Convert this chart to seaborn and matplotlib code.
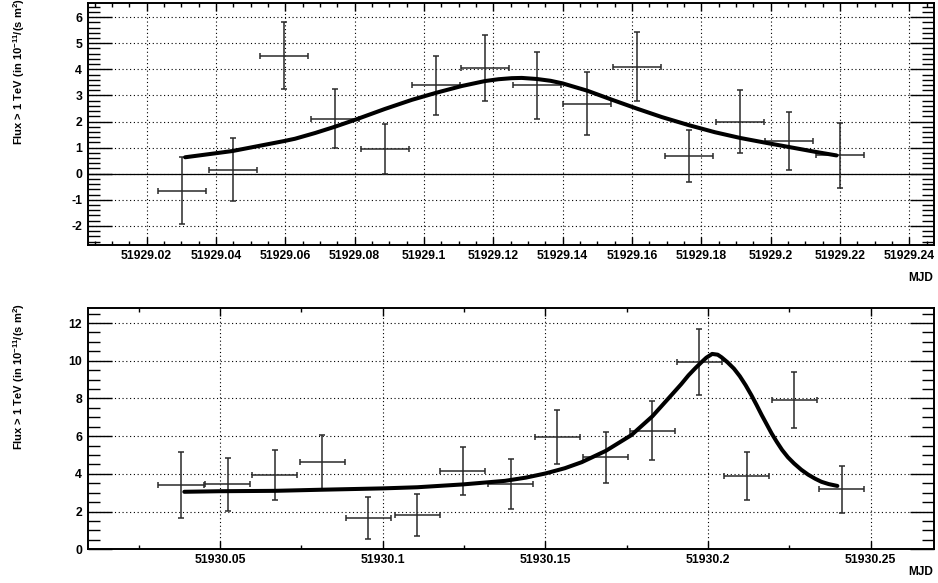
import matplotlib
matplotlib.use("Agg")
import matplotlib.pyplot as plt
import seaborn as sns
from matplotlib.ticker import FixedLocator, FixedFormatter, AutoMinorLocator

# ---- night 1 (MJD 51929): 20-minute flux bins ----
mjd_1 = [51929.0301, 51929.0448, 51929.0596, 51929.0743, 51929.0887, 51929.1035,
         51929.1176, 51929.1325, 51929.1471, 51929.1615, 51929.1764, 51929.1912,
         51929.2054, 51929.2200]
flux_1 = [-0.65, 0.16, 4.52, 2.10, 0.95, 3.39, 4.05, 3.39, 2.68, 4.10, 0.67, 1.99, 1.25, 0.70]
flux_err_1 = [1.28, 1.20, 1.29, 1.13, 0.95, 1.13, 1.25, 1.29, 1.20, 1.33, 0.99, 1.21, 1.11, 1.23]

# fitted light curve, night 1
fit_mjd_1 = [51929.0311, 51929.0397, 51929.0448, 51929.0522, 51929.0596, 51929.0628,
             51929.0686, 51929.0743, 51929.0800, 51929.0887, 51929.0965, 51929.1035,
             51929.1109, 51929.1176, 51929.1215, 51929.1253, 51929.1282, 51929.1325,
             51929.1365, 51929.1400, 51929.1471, 51929.1541, 51929.1615, 51929.1686,
             51929.1764, 51929.1839, 51929.1912, 51929.2000, 51929.2054, 51929.2128,
             51929.2190]
fit_flux_1 = [0.63, 0.78, 0.87, 1.06, 1.25, 1.34, 1.56, 1.80, 2.06, 2.48, 2.83, 3.10,
              3.36, 3.55, 3.62, 3.66, 3.67, 3.63, 3.56, 3.46, 3.18, 2.84, 2.49, 2.17,
              1.86, 1.59, 1.37, 1.15, 1.02, 0.84, 0.70]

# ---- night 2 (MJD 51930) ----
mjd_2 = [51930.0380, 51930.0524, 51930.0668, 51930.0814, 51930.0956, 51930.1106,
         51930.1246, 51930.1393, 51930.1537, 51930.1686, 51930.1829, 51930.1974,
         51930.2119, 51930.2265, 51930.2411]
flux_2 = [3.42, 3.45, 3.94, 4.62, 1.65, 1.82, 4.14, 3.46, 5.96, 4.87, 6.28, 9.92, 3.87, 7.92, 3.18]
flux_err_2 = [1.75, 1.41, 1.30, 1.43, 1.10, 1.10, 1.28, 1.33, 1.43, 1.33, 1.56, 1.74, 1.28, 1.48, 1.24]

fit_mjd_2 = [51930.0390, 51930.0500, 51930.0668, 51930.0814, 51930.1000, 51930.1106,
             51930.1246, 51930.1376, 51930.1440, 51930.1500, 51930.1560, 51930.1612,
             51930.1686, 51930.1765, 51930.1829, 51930.1889, 51930.1918, 51930.1940,
             51930.1961, 51930.1980, 51930.1995, 51930.2013, 51930.2030, 51930.2042,
             51930.2060, 51930.2080, 51930.2098, 51930.2116, 51930.2134, 51930.2150,
             51930.2165, 51930.2181, 51930.2196, 51930.2212, 51930.2228, 51930.2246,
             51930.2265, 51930.2287, 51930.2308, 51930.2330, 51930.2349, 51930.2371,
             51930.2398]
fit_flux_2 = [3.05, 3.08, 3.10, 3.16, 3.23, 3.29, 3.44, 3.63, 3.80, 4.02, 4.30, 4.62,
              5.22, 6.06, 7.05, 8.20, 8.76, 9.22, 9.60, 9.92, 10.16, 10.36, 10.32, 10.18,
              9.92, 9.58, 9.18, 8.70, 8.16, 7.64, 7.13, 6.62, 6.14, 5.69, 5.27, 4.88,
              4.55, 4.22, 3.96, 3.74, 3.58, 3.46, 3.36]

# half bin width: 10 minutes in days
bin_half = 10.0 / 1440.0

xticks_1 = ["51929.02", "51929.04", "51929.06", "51929.08", "51929.1", "51929.12",
            "51929.14", "51929.16", "51929.18", "51929.2", "51929.22", "51929.24"]
yticks_1 = ["-2", "-1", "0", "1", "2", "3", "4", "5", "6"]
xticks_2 = ["51930.05", "51930.1", "51930.15", "51930.2", "51930.25"]
yticks_2 = ["0", "2", "4", "6", "8", "10", "12"]

ylabel = r"Flux > 1 TeV (in 10$^{-11}$/(s m$^{2}$)"

sns.set_theme(style="white")
plt.rcParams.update({
    "font.family": ["Liberation Sans", "DejaVu Sans"],
    "font.weight": "bold",
    "mathtext.fontset": "custom",
    "mathtext.rm": "Liberation Sans:bold",
    "mathtext.it": "Liberation Sans:bold",
    "mathtext.bf": "Liberation Sans:bold",
    "mathtext.default": "rm",
    "axes.edgecolor": "black",
    "axes.linewidth": 1.4,
})

fig = plt.figure(figsize=(9.38, 5.83), dpi=100)
ax1 = fig.add_axes([0.0935, 0.5798, 0.9022, 0.4146])
ax2 = fig.add_axes([0.0935, 0.0578, 0.9022, 0.4134])

grid_style = dict(color="black", linestyle=(0, (1, 2.4)), linewidth=0.8)


def style_axes(ax, xlabels, ylabels, xminor, yminor, xlim, ylim):
    ax.set_xlim(*xlim)
    ax.set_ylim(*ylim)
    ax.xaxis.set_major_locator(FixedLocator([float(s) for s in xlabels]))
    ax.xaxis.set_major_formatter(FixedFormatter(xlabels))
    ax.yaxis.set_major_locator(FixedLocator([float(s) for s in ylabels]))
    ax.yaxis.set_major_formatter(FixedFormatter(ylabels))
    ax.xaxis.set_minor_locator(AutoMinorLocator(xminor))
    ax.yaxis.set_minor_locator(AutoMinorLocator(yminor))
    ax.tick_params(axis="both", which="both", direction="in", colors="black",
                   top=True, bottom=True, left=True, right=True, width=1.0)
    ax.tick_params(axis="y", which="major", length=17, pad=4, labelsize=8.8)
    ax.tick_params(axis="y", which="minor", length=8.5)
    ax.tick_params(axis="x", which="major", length=5.8, pad=3.4, labelsize=8.8)
    ax.tick_params(axis="x", which="minor", length=2.9)
    for lab in ax.get_xticklabels() + ax.get_yticklabels():
        lab.set_fontweight("bold")
    ax.grid(True, which="major", **grid_style)
    ax.set_axisbelow(True)
    for sp in ax.spines.values():
        sp.set_linewidth(1.4)
        sp.set_color("black")


def draw_panel(ax, t, f, ferr, fit_t, fit_f):
    ax.errorbar(t, f, xerr=bin_half, yerr=ferr, fmt="none", ecolor="#2a2a2a",
                elinewidth=1.1, capsize=1.9, capthick=1.1, zorder=3)
    sns.lineplot(x=fit_t, y=fit_f, ax=ax, color="black", linewidth=2.9,
                 sort=False, estimator=None, zorder=4)


# top panel
draw_panel(ax1, mjd_1, flux_1, flux_err_1, fit_mjd_1, fit_flux_1)
ax1.axhline(0.0, color="black", linewidth=0.9, zorder=2)
style_axes(ax1, xticks_1, yticks_1, 4, 5, (51929.0030, 51929.2471), (-2.73, 6.53))

# bottom panel
draw_panel(ax2, mjd_2, flux_2, flux_err_2, fit_mjd_2, fit_flux_2)
style_axes(ax2, xticks_2, yticks_2, 2, 4, (51930.0093, 51930.2695), (0.0, 12.78))

for ax, ymjd in ((ax1, -0.111), (ax2, -0.069)):
    ax.set_ylabel(ylabel, loc="top", fontsize=8.0, fontweight="bold", color="black")
    ax.yaxis.set_label_coords(-0.0717, 1.02)
    ax.set_xlabel("MJD", loc="right", fontsize=8.6, fontweight="bold", color="black")
    ax.xaxis.set_label_coords(0.999, ymjd)

fig.savefig("out.png", dpi=100)
